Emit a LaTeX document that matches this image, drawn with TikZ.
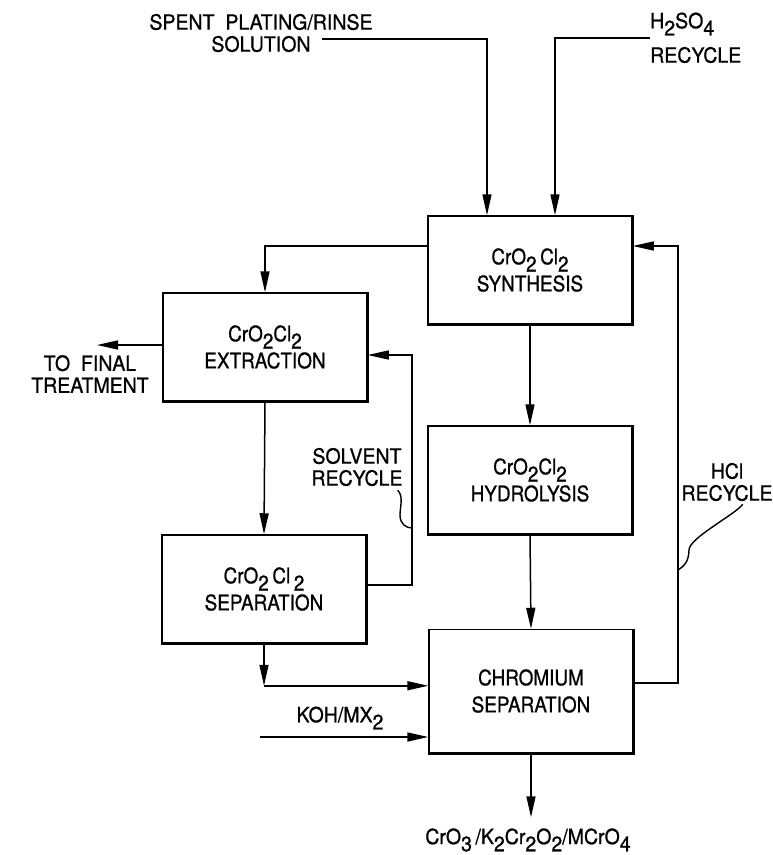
\documentclass[tikz,border=0pt]{standalone}
\usepackage{fontspec}
\setmainfont{TeX Gyre Heros}[FakeStretch=0.88, FakeBold=0.8]
\newfontfamily\tagfont{TeX Gyre Heros}[FakeStretch=0.93, FakeBold=0.8]
\usepackage{tikz}
\usetikzlibrary{arrows.meta, positioning}
\newcommand{\dn}[1]{\raisebox{-0.65ex}{#1}}

\begin{document}
\begin{tikzpicture}[x=1pt, y=-1pt,
        unit/.style={
            rectangle,
            draw,
            line width=1.5pt,
            minimum width=204pt,
            minimum height=108pt,
            inner sep=0pt,
            align=center,
            font=\fontsize{21.5}{27}\selectfont
        },
        tag/.style={
            align=center,
            inner sep=0pt,
            font=\tagfont\fontsize{21}{22}\selectfont
        },
        flow/.style={
            -{Triangle[length=21pt,width=9pt]},
            line width=1.5pt
        },
        pipe/.style={line width=1.4pt}
    ]
        \useasboundingbox (0,0) rectangle (773,855);

        % Process units
        \node[unit] (syn) at (530, 270) {CrO\dn{2}\,Cl\dn{2}\\SYNTHESIS};
        \node[unit] (ext) at (265, 347) {CrO\dn{2}Cl\dn{2}\\EXTRACTION};
        \node[unit] (hyd) at (530, 480) {CrO\dn{2}Cl\dn{2}\\HYDROLYSIS};
        \node[unit] (sep) at (264, 589) {CrO\dn{2}\,Cl\,\dn{2}\\SEPARATION};
        \node[unit, minimum height=123pt] (chr) at (531, 691) {CHROMIUM\\SEPARATION};

        % Heavier right and bottom edges
        \foreach \n in {syn,ext,hyd,sep,chr}
            \draw[line width=3pt] (\n.north east) -- (\n.south east) -- (\n.south west);

        % Stream labels
        \node[tag] (spent) at (261, 33) {SPENT\ \ PLATING/RINSE\\SOLUTION};
        \coordinate (spentin) at (322, 39);
        \node[tag, anchor=west] (acid) at (650, 24) {H\dn{2}SO\dn{4}};
        \node[tag, anchor=west] (acidrec) at (650, 55) {RECYCLE};
        \coordinate (acidin) at (650, 38);
        \node[tag] (final) at (90, 374) {TO\ \ FINAL\\TREATMENT};
        \coordinate (finout) at (97, 345);
        \node[tag] (solvtag) at (357, 467) {SOLVENT\\RECYCLE};
        \coordinate (solvturn) at (412, 355);
        \coordinate (solvtick) at (412, 528);
        \node[tag] (hcltag) at (727, 482) {HCl\\RECYCLE};
        \coordinate (hclturn) at (678, 246);
        \coordinate (hcltick) at (678, 570);
        \node[tag] (koh) at (340, 718) {KOH/MX\dn{2}};
        \coordinate (kohin) at (260, 737);
        \node[tag] (prod) at (528, 840) {CrO\dn{3}\,/K\dn{2}Cr\dn{2}O\dn{2}/MCrO\dn{4}};

        % Streams
        \draw[flow] (spentin) -| ([xshift=-43pt]syn.north);
        \draw[flow] (acidin) -| ([xshift=25pt]syn.north);
        \draw[flow] ([yshift=24pt]syn.west) -| (ext.north);
        \draw[flow] ([yshift=2pt]ext.west) -- ([yshift=2pt]ext.west -| finout);
        \draw[flow] (ext.south) -- (sep.north);
        \draw[flow] ([yshift=4pt]sep.east) -| (solvturn) -- ([yshift=-8pt]ext.east);
        \draw[flow] (syn.south) -- (hyd.north);
        \draw[flow] (hyd.south) -- (chr.north);
        \draw[flow] (sep.south) -- ++(0,42) coordinate (bend);
        \draw[flow] (bend) -- (bend -| chr.west);
        \draw[flow] (kohin) -- (kohin -| chr.west);
        \draw[flow] (chr.south) -- ++(0,64);
        \draw[flow] ([yshift=8pt]chr.east) -| (hclturn) -- ([yshift=24pt]syn.east);

        % Leader ticks
        \draw[pipe] ([xshift=-5pt,yshift=-4pt]solvtag.south east) .. controls +(6,6) and +(0,-8) .. (400,515) .. controls +(0,9) and +(-6,0) .. (solvtick);
        \draw[pipe] ([xshift=-30pt,yshift=-3pt]hcltag.south east) .. controls +(-7,10) and +(0,-12) .. (689,550) .. controls +(0,12) and +(5,-3) .. (hcltick);
    \end{tikzpicture}
\end{document}
